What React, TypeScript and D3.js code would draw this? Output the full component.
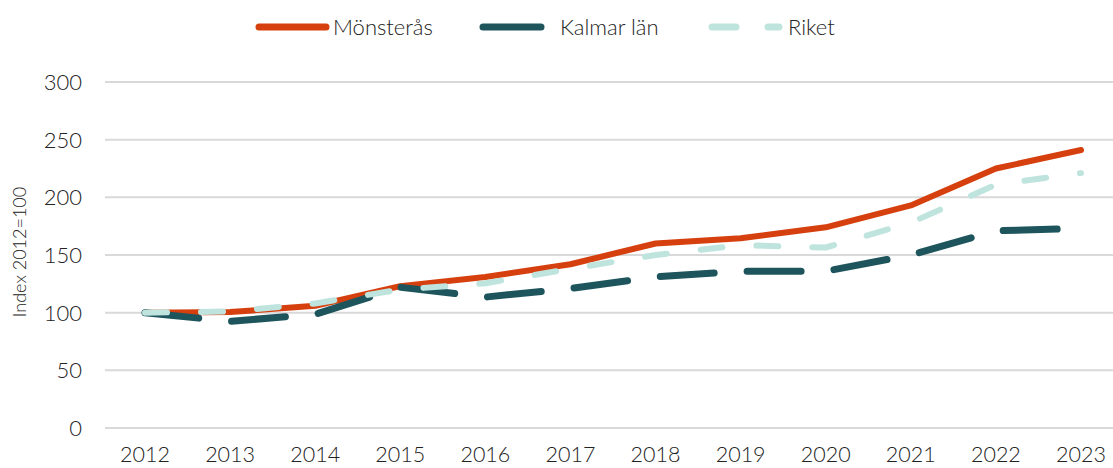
import React from 'react';
import * as d3 from 'd3';

const years = ['2012', '2013', '2014', '2015', '2016', '2017', '2018', '2019', '2020', '2021', '2022', '2023'];
const monsteras = [100, 100.5, 106, 123, 131, 142, 160, 164.5, 174, 193, 225, 241];
const kalmar = [100, 92.5, 98.5, 122, 113.5, 121, 131, 136, 136, 150, 171, 173];
const riket = [100, 101, 108, 120, 125.5, 138, 150, 158.5, 156.5, 178, 211, 221];
const yTicks = [0, 50, 100, 150, 200, 250, 300];

const W = 1113;
const H = 468;
const FONT = 'Lato, "Open Sans", sans-serif';

const series = [
  { name: 'Mönsterås', values: monsteras, color: '#D5400E', dash: 'none', width: 6 },
  { name: 'Kalmar län', values: kalmar, color: '#1E555C', dash: '54 33', width: 7 },
  { name: 'Riket', values: riket, color: '#BFE4DE', dash: '22 34', width: 6 },
];

// legend: line start/end and text start
const legendPos = [
  { x1: 259, x2: 326, tx: 333, dash: 'none' },
  { x1: 483, x2: 541, tx: 560, dash: 'none' },
  { x1: 712, x2: 779, tx: 788, dash: '24 32' },
];

export default function App() {
  const x = d3.scalePoint<string>().domain(years).range([145, 1081]);
  const y = d3.scaleLinear().domain([0, 300]).range([428, 82]);
  const line = d3
    .line<number>()
    .x((_, i) => x(years[i])!)
    .y(d => y(d));

  return (
    <svg width={W} height={H} style={{ position: 'absolute', left: 0, top: 0 }} fontFamily={FONT}>
      {yTicks.map(t => (
        <g key={t}>
          <line x1={105} x2={W} y1={y(t)} y2={y(t)} stroke="#D9D9D9" strokeWidth={2} />
          <text x={82} y={y(t)} dy="0.36em" textAnchor="end" fontSize={22} fontWeight={300} fill="#222">
            {t}
          </text>
        </g>
      ))}
      {years.map(yr => (
        <text key={yr} x={x(yr)} y={462} textAnchor="middle" fontSize={21.5} fontWeight={300} fill="#222">
          {yr}
        </text>
      ))}
      <text
        transform={`translate(26,252) rotate(-90)`}
        textAnchor="middle"
        fontSize={18}
        fontWeight={300}
        fill="#222"
      >
        Index 2012=100
      </text>
      {series.map(s => (
        <path
          key={s.name}
          d={line(s.values) ?? ''}
          fill="none"
          stroke={s.color}
          strokeWidth={s.width}
          strokeDasharray={s.dash}
          strokeLinecap="round"
          strokeLinejoin="round"
        />
      ))}
      {series.map((s, i) => (
        <g key={s.name}>
          <line
            x1={legendPos[i].x1}
            x2={legendPos[i].x2}
            y1={27}
            y2={27}
            stroke={s.color}
            strokeWidth={7}
            strokeLinecap="round"
            strokeDasharray={legendPos[i].dash}
          />
          <text x={legendPos[i].tx} y={27} dy="0.36em" fontSize={22} fontWeight={300} fill="#222">
            {s.name}
          </text>
        </g>
      ))}
    </svg>
  );
}
